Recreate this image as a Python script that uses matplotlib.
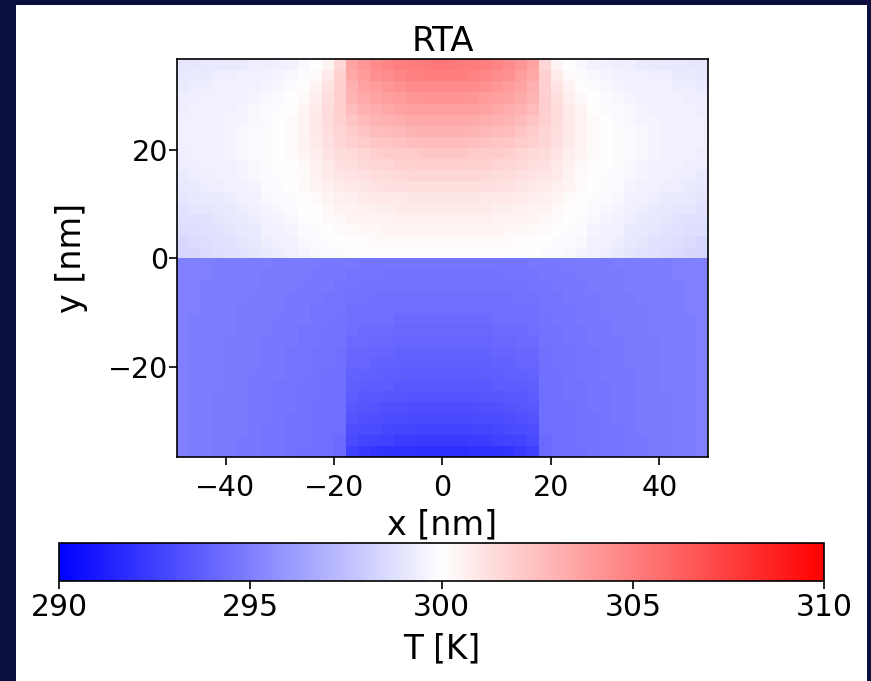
import numpy as np
import matplotlib
matplotlib.use("Agg")
import matplotlib.pyplot as plt
from matplotlib.patches import Rectangle

# temperature [K], upper half (y > 0), rows top -> y=0,
# columns from x=0 outward to x=+49 (field is mirror symmetric in x)
t_upper_half = [
    [305.3, 305.2, 305.1, 305.0, 304.8, 304.5, 304.1, 303.6, 301.6, 300.4, 300.0, 299.7, 299.5, 299.4, 299.3, 299.3, 299.2, 299.2, 299.1, 299.1, 299.0, 299.0],
    [305.0, 305.0, 304.9, 304.7, 304.5, 304.3, 303.9, 303.4, 301.8, 300.8, 300.2, 299.9, 299.7, 299.6, 299.5, 299.4, 299.4, 299.3, 299.3, 299.2, 299.2, 299.1],
    [304.6, 304.6, 304.5, 304.3, 304.1, 303.9, 303.6, 303.1, 301.9, 301.1, 300.5, 300.1, 299.9, 299.7, 299.6, 299.5, 299.5, 299.4, 299.4, 299.3, 299.3, 299.2],
    [304.2, 304.2, 304.1, 303.9, 303.8, 303.6, 303.3, 302.9, 301.9, 301.3, 300.7, 300.3, 300.0, 299.8, 299.7, 299.6, 299.5, 299.5, 299.4, 299.4, 299.3, 299.3],
    [303.8, 303.8, 303.7, 303.6, 303.4, 303.2, 303.0, 302.6, 301.9, 301.4, 300.8, 300.4, 300.1, 299.9, 299.8, 299.7, 299.6, 299.5, 299.5, 299.4, 299.4, 299.3],
    [303.4, 303.4, 303.3, 303.2, 303.1, 302.9, 302.7, 302.3, 301.8, 301.4, 300.9, 300.5, 300.2, 300.0, 299.8, 299.7, 299.6, 299.6, 299.5, 299.5, 299.4, 299.4],
    [303.0, 303.0, 302.9, 302.8, 302.7, 302.6, 302.3, 302.0, 301.7, 301.3, 300.9, 300.5, 300.2, 300.0, 299.9, 299.8, 299.7, 299.6, 299.5, 299.5, 299.4, 299.4],
    [302.6, 302.6, 302.5, 302.4, 302.3, 302.2, 302.0, 301.8, 301.6, 301.2, 300.8, 300.5, 300.2, 300.0, 299.9, 299.8, 299.7, 299.6, 299.5, 299.5, 299.4, 299.4],
    [302.2, 302.2, 302.1, 302.1, 302.0, 301.9, 301.7, 301.5, 301.4, 301.1, 300.7, 300.4, 300.2, 300.0, 299.9, 299.8, 299.7, 299.6, 299.5, 299.4, 299.4, 299.3],
    [301.9, 301.9, 301.8, 301.8, 301.7, 301.6, 301.5, 301.3, 301.2, 300.9, 300.6, 300.3, 300.1, 300.0, 299.9, 299.7, 299.6, 299.5, 299.5, 299.4, 299.3, 299.3],
    [301.6, 301.6, 301.6, 301.5, 301.4, 301.4, 301.2, 301.1, 301.0, 300.8, 300.5, 300.2, 300.1, 299.9, 299.8, 299.7, 299.6, 299.5, 299.4, 299.3, 299.3, 299.2],
    [301.3, 301.3, 301.3, 301.2, 301.2, 301.1, 301.0, 300.9, 300.8, 300.6, 300.4, 300.2, 300.0, 299.9, 299.8, 299.6, 299.5, 299.4, 299.3, 299.3, 299.2, 299.1],
    [301.0, 301.0, 301.0, 300.9, 300.9, 300.9, 300.8, 300.7, 300.6, 300.4, 300.2, 300.1, 299.9, 299.8, 299.7, 299.5, 299.4, 299.3, 299.2, 299.2, 299.1, 299.0],
    [300.8, 300.8, 300.8, 300.8, 300.7, 300.7, 300.6, 300.5, 300.5, 300.3, 300.1, 300.0, 299.8, 299.7, 299.6, 299.4, 299.3, 299.2, 299.1, 299.0, 299.0, 298.9],
    [300.6, 300.6, 300.6, 300.6, 300.5, 300.5, 300.5, 300.4, 300.3, 300.2, 300.0, 299.9, 299.7, 299.6, 299.5, 299.3, 299.2, 299.1, 299.0, 298.9, 298.8, 298.8],
    [300.4, 300.4, 300.4, 300.4, 300.4, 300.3, 300.3, 300.2, 300.2, 300.0, 299.9, 299.8, 299.6, 299.5, 299.4, 299.2, 299.1, 299.0, 298.9, 298.8, 298.7, 298.7],
    [300.2, 300.2, 300.2, 300.2, 300.2, 300.2, 300.1, 300.1, 300.0, 299.9, 299.8, 299.7, 299.5, 299.4, 299.3, 299.1, 299.0, 298.9, 298.8, 298.7, 298.6, 298.5],
    [300.1, 300.1, 300.1, 300.1, 300.1, 300.0, 300.0, 300.0, 299.9, 299.8, 299.7, 299.6, 299.4, 299.3, 299.2, 299.0, 298.9, 298.8, 298.7, 298.6, 298.5, 298.4],
]

# lower half (y < 0), rows y=0 -> bottom, columns from x=0 outward
t_lower_half = [
    [294.6, 294.6, 294.6, 294.6, 294.6, 294.6, 294.6, 294.7, 294.7, 294.7, 294.8, 294.8, 294.8, 294.8, 294.9, 294.9, 294.9, 294.9, 294.9, 295.0, 295.0, 295.0],
    [294.5, 294.5, 294.5, 294.5, 294.5, 294.6, 294.6, 294.6, 294.7, 294.7, 294.7, 294.8, 294.8, 294.8, 294.8, 294.9, 294.9, 294.9, 294.9, 295.0, 295.0, 295.0],
    [294.5, 294.5, 294.5, 294.5, 294.5, 294.5, 294.5, 294.6, 294.6, 294.7, 294.7, 294.7, 294.8, 294.8, 294.8, 294.9, 294.9, 294.9, 294.9, 294.9, 295.0, 295.0],
    [294.4, 294.4, 294.4, 294.4, 294.4, 294.4, 294.5, 294.5, 294.6, 294.6, 294.7, 294.7, 294.7, 294.8, 294.8, 294.8, 294.9, 294.9, 294.9, 294.9, 295.0, 295.0],
    [294.3, 294.3, 294.3, 294.3, 294.3, 294.4, 294.4, 294.4, 294.6, 294.6, 294.6, 294.7, 294.7, 294.8, 294.8, 294.8, 294.8, 294.9, 294.9, 294.9, 295.0, 295.0],
    [294.2, 294.2, 294.2, 294.2, 294.3, 294.3, 294.3, 294.4, 294.5, 294.6, 294.6, 294.7, 294.7, 294.7, 294.8, 294.8, 294.8, 294.9, 294.9, 294.9, 294.9, 295.0],
    [294.1, 294.1, 294.1, 294.1, 294.2, 294.2, 294.2, 294.3, 294.5, 294.5, 294.6, 294.6, 294.7, 294.7, 294.8, 294.8, 294.8, 294.9, 294.9, 294.9, 294.9, 295.0],
    [294.0, 294.0, 294.0, 294.0, 294.1, 294.1, 294.2, 294.2, 294.5, 294.5, 294.6, 294.6, 294.7, 294.7, 294.7, 294.8, 294.8, 294.8, 294.9, 294.9, 294.9, 295.0],
    [293.9, 293.9, 293.9, 293.9, 294.0, 294.0, 294.1, 294.1, 294.4, 294.5, 294.5, 294.6, 294.6, 294.7, 294.7, 294.8, 294.8, 294.8, 294.9, 294.9, 294.9, 295.0],
    [293.8, 293.8, 293.8, 293.8, 293.9, 293.9, 294.0, 294.0, 294.4, 294.5, 294.5, 294.6, 294.6, 294.7, 294.7, 294.8, 294.8, 294.8, 294.9, 294.9, 294.9, 295.0],
    [293.6, 293.6, 293.6, 293.7, 293.7, 293.8, 293.8, 293.9, 294.4, 294.4, 294.5, 294.6, 294.6, 294.7, 294.7, 294.7, 294.8, 294.8, 294.9, 294.9, 294.9, 295.0],
    [293.5, 293.5, 293.5, 293.5, 293.6, 293.6, 293.7, 293.8, 294.4, 294.4, 294.5, 294.5, 294.6, 294.6, 294.7, 294.7, 294.8, 294.8, 294.9, 294.9, 294.9, 295.0],
    [293.3, 293.3, 293.3, 293.4, 293.4, 293.5, 293.5, 293.6, 294.3, 294.4, 294.5, 294.5, 294.6, 294.6, 294.7, 294.7, 294.8, 294.8, 294.8, 294.9, 294.9, 295.0],
    [293.1, 293.1, 293.1, 293.2, 293.2, 293.3, 293.4, 293.5, 294.3, 294.4, 294.4, 294.5, 294.6, 294.6, 294.7, 294.7, 294.8, 294.8, 294.8, 294.9, 294.9, 295.0],
    [292.9, 292.9, 292.9, 293.0, 293.0, 293.1, 293.2, 293.3, 294.3, 294.4, 294.4, 294.5, 294.5, 294.6, 294.7, 294.7, 294.8, 294.8, 294.8, 294.9, 294.9, 295.0],
    [292.6, 292.6, 292.7, 292.7, 292.8, 292.9, 293.0, 293.1, 294.3, 294.3, 294.4, 294.5, 294.5, 294.6, 294.6, 294.7, 294.8, 294.8, 294.8, 294.9, 294.9, 295.0],
    [292.3, 292.3, 292.4, 292.4, 292.5, 292.6, 292.7, 292.9, 294.2, 294.3, 294.4, 294.5, 294.5, 294.6, 294.6, 294.7, 294.7, 294.8, 294.8, 294.9, 294.9, 295.0],
    [291.8, 291.8, 291.9, 291.9, 292.0, 292.1, 292.3, 292.5, 294.2, 294.3, 294.4, 294.4, 294.5, 294.6, 294.6, 294.7, 294.7, 294.8, 294.8, 294.9, 294.9, 295.0],
]

x_ticks = [-40, -20, 0, 20, 40]
y_ticks = [-20, 0, 20]
cbar_ticks = [290, 295, 300, 305, 310]

navy = "#0b0f40"

# mirror the half tables to the full width
upper = np.array(t_upper_half)
lower = np.array(t_lower_half)
temp = np.vstack([np.hstack([upper[:, ::-1], upper]),
                  np.hstack([lower[:, ::-1], lower])])

n_rows, n_cols = temp.shape
x_edges = np.linspace(-49, 49, n_cols + 1)
y_edges = np.linspace(36.7, -36.7, n_rows + 1)

fig = plt.figure(figsize=(8.71, 6.81), dpi=100, facecolor=navy)
# white page on the dark slide
fig.patches.append(Rectangle((16 / 871, 0), (867 - 16) / 871, 676 / 681,
                             transform=fig.transFigure, facecolor="white",
                             edgecolor="none", zorder=-5))

ax = fig.add_axes([176.7 / 871, 1 - 457.3 / 681, (708.3 - 176.7) / 871, (457.3 - 59.3) / 681])
mesh = ax.pcolormesh(x_edges, y_edges, temp, cmap="bwr", vmin=290, vmax=310, shading="flat")
ax.set_xlim(-49, 49)
ax.set_ylim(-36.7, 36.7)
ax.set_xticks(x_ticks)
ax.set_yticks(y_ticks)
ax.tick_params(labelsize=20.5, length=5.5, width=1.2)
ax.tick_params(axis="x", pad=6.5)
ax.tick_params(axis="y", pad=0.5)
for s in ax.spines.values():
    s.set_linewidth(1.2)
ax.set_xlabel("x [nm]", fontsize=24)
ax.set_ylabel("y [nm]", fontsize=24)
ax.xaxis.set_label_coords(0.5, -0.128)
ax.yaxis.set_label_coords(-0.167, 0.5)
ax.set_title("RTA", fontsize=24.5, pad=6)

cax = fig.add_axes([59.3 / 871, 1 - 580.7 / 681, (824 - 59.3) / 871, (580.7 - 543.3) / 681])
cb = fig.colorbar(mesh, cax=cax, orientation="horizontal", ticks=cbar_ticks)
cb.ax.tick_params(labelsize=21.5, length=6, width=1.2, pad=3)
cb.outline.set_linewidth(1.2)
cb.set_label("T [K]", fontsize=23.5, labelpad=7)

fig.savefig("out.png", dpi=100, facecolor=navy)
